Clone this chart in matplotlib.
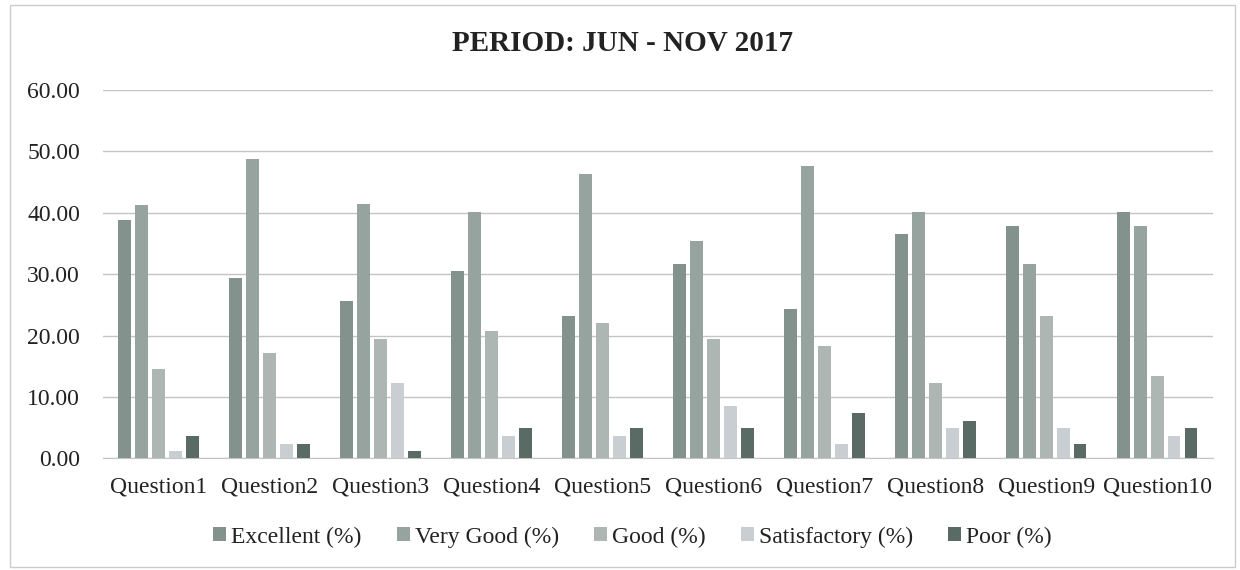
import numpy as np
import matplotlib
matplotlib.use("Agg")
import matplotlib.pyplot as plt
from matplotlib.patches import Rectangle

# survey results, percent of responses per rating
questions = [f"Question{i}" for i in range(1, 11)]
excellent = [38.9, 29.3, 25.6, 30.5, 23.2, 31.7, 24.4, 36.6, 37.8, 40.2]
very_good = [41.3, 48.8, 41.5, 40.2, 46.3, 35.4, 47.6, 40.2, 31.7, 37.8]
good = [14.6, 17.1, 19.5, 20.7, 22.0, 19.5, 18.3, 12.2, 23.2, 13.4]
satisfactory = [1.2, 2.4, 12.2, 3.7, 3.7, 8.5, 2.4, 4.9, 4.9, 3.7]
poor = [3.6, 2.4, 1.2, 4.9, 4.9, 4.9, 7.3, 6.1, 2.4, 4.9]

series = [
    ("Excellent (%)", excellent, "#84928d"),
    ("Very Good (%)", very_good, "#96a39f"),
    ("Good (%)", good, "#adb6b3"),
    ("Satisfactory (%)", satisfactory, "#c9ced2"),
    ("Poor (%)", poor, "#5a6a64"),
]

plt.rcParams["font.family"] = ["Liberation Serif", "DejaVu Serif"]

fig = plt.figure(figsize=(12.4, 5.7), dpi=100)
ax = fig.add_axes([0.083, 0.196, 0.895, 0.646])

x = np.arange(len(questions))
pitch = 0.153
width = 0.113
for i, (name, vals, color) in enumerate(series):
    ax.bar(x + (i - 2) * pitch, vals, width, color=color, label=name, zorder=3)

ax.set_xlim(-0.5, len(questions) - 0.5)
ax.set_ylim(0, 60)
ax.set_yticks(np.arange(0, 61, 10))
ax.set_yticklabels([f"{v:.2f}" for v in range(0, 61, 10)])
ax.set_xticks(x)
ax.set_xticklabels(questions)
ax.tick_params(axis="both", length=0, labelsize=17, colors="#222222")
ax.tick_params(axis="y", pad=16.5)
ax.tick_params(axis="x", pad=13)
ax.grid(axis="y", color="#c4c4c4", linewidth=1, zorder=0)
for side in ["top", "right", "left"]:
    ax.spines[side].set_visible(False)
ax.spines["bottom"].set_color("#c4c4c4")

fig.suptitle("PERIOD: JUN - NOV 2017", fontsize=21, fontweight="bold",
             color="#222222", x=0.502, y=0.947)

fig.legend(loc="center", bbox_to_anchor=(0.51, 0.058), ncol=5, frameon=False,
           fontsize=17, handlelength=0.55, handleheight=0.55, handletextpad=0.2,
           columnspacing=1.5, labelcolor="#222222")

fig.patches.append(Rectangle((0.008, 0.006), 0.988, 0.985, transform=fig.transFigure,
                             fill=False, edgecolor="#cccccc", linewidth=1))

fig.savefig("out.png", dpi=100)
